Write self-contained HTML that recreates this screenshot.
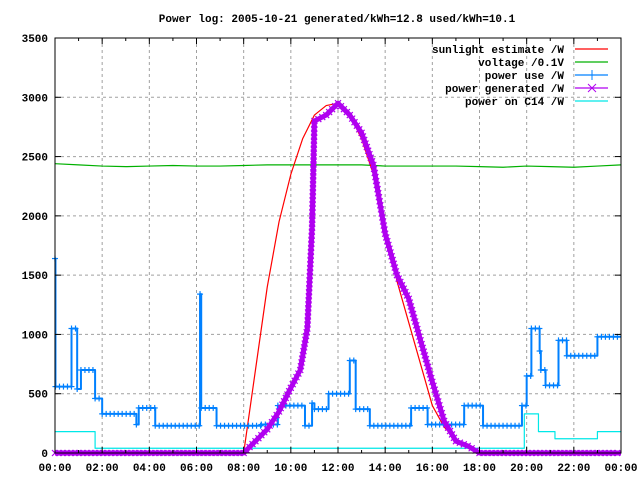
<!DOCTYPE html>
<html><head><meta charset="utf-8"><style>
body{margin:0;background:#fff}
svg{display:block;font-family:"Liberation Mono","DejaVu Sans Mono",monospace;font-size:11px;font-weight:bold}
</style></head><body>
<svg id="chart" width="640" height="480" viewBox="0 0 640 480">
<rect width="640" height="480" fill="#fff"/>
<text x="337" y="22" text-anchor="middle">Power log: 2005-10-21 generated/kWh=12.8 used/kWh=10.1</text>
<g id="grid"></g><g id="series"></g><g id="axes"></g>
<g id="legend"></g>
</svg>
<script>
const yTicks=[0,500,1000,1500,2000,2500,3000,3500];
const xTickLabels=["00:00","02:00","04:00","06:00","08:00","10:00","12:00","14:00","16:00","18:00","20:00","22:00","00:00"];
const sunHours=[8,8.5,9,9.5,10,10.5,11,11.5,12,12.5,13,13.5,14,14.5,15,15.5,16,16.5,17,17.5,18];
const sunValues=[0,700,1400,1950,2350,2650,2850,2930,2950,2850,2650,2350,1900,1450,1100,750,400,220,110,60,0];
const voltHours=[0,1,2,3,4,5,6,7,8,9,10,11,12,13,14,15,16,17,18,19,20,21,22,23,24];
const voltValues=[2440,2430,2420,2415,2420,2425,2420,2420,2425,2430,2430,2430,2430,2430,2420,2420,2420,2420,2415,2410,2420,2415,2410,2420,2430];
const useStart=[0,0.02,0.7,0.94,1.1,1.7,2.0,3.45,3.55,4.25,6.15,6.2,6.85,8.75,9.45,10.6,10.9,11.0,11.6,12.5,12.75,13.35,15.1,15.8,17.35,18.15,19.8,20.0,20.2,20.55,20.6,20.8,21.35,21.7,23.0];
const useValues=[1640,560,1050,540,700,460,330,240,380,230,1340,380,230,240,400,230,420,370,500,780,370,230,380,240,400,230,400,650,1050,860,700,570,950,820,980];
const genHours=[0,8,8.5,9,9.5,10,10.4,10.7,10.9,11,11.5,12,12.5,13,13.5,14,14.5,15,15.5,16,16.5,17,17.5,18,24];
const genValues=[0,0,100,200,350,550,700,1050,1900,2800,2850,2950,2850,2700,2430,1850,1500,1300,950,600,270,100,60,0,0];
const c14Start=[0,1.7,19.9,20.5,21.2,23.0];
const c14Values=[180,40,330,180,120,180];

const L=55,R=621,T=38,B=453,NS="http://www.w3.org/2000/svg";
const X=h=>L+(R-L)*h/24, Y=v=>B-(B-T)*v/3500;
function mk(tag,attrs,parent){const e=document.createElementNS(NS,tag);for(const k in attrs)e.setAttribute(k,attrs[k]);parent.appendChild(e);return e;}
const grid=document.getElementById('grid'),axes=document.getElementById('axes'),ser=document.getElementById('series'),leg=document.getElementById('legend');
yTicks.forEach(v=>{
 if(v>0&&v<3500){const g=mk('line',{x1:L,x2:R,y1:Y(v),y2:Y(v),stroke:'#a0a0a0','stroke-dasharray':'3,3'},grid);
 
 }
 const t=mk('text',{x:L-7,y:Y(v)+4,'text-anchor':'end'},axes);t.textContent=v;
 
 
 mk('line',{x1:L,x2:L+6,y1:Y(v),y2:Y(v),stroke:'#000'},axes);mk('line',{x1:R,x2:R-6,y1:Y(v),y2:Y(v),stroke:'#000'},axes);
});
xTickLabels.forEach((s,i)=>{const h=i*2;
 if(i>0&&i<12){const g=mk('line',{x1:X(h),x2:X(h),y1:T,y2:B,stroke:'#a0a0a0','stroke-dasharray':'3,3'},grid);
 
 }
 const t=mk('text',{x:X(h),y:471,'text-anchor':'middle'},axes);t.textContent=s;
 
 
});
for(let h=0;h<=24;h++){const l=h%2?3:6;mk('line',{x1:X(h),x2:X(h),y1:B,y2:B-l,stroke:'#000'},axes);mk('line',{x1:X(h),x2:X(h),y1:T,y2:T+l,stroke:'#000'},axes);}
const fr=mk('rect',{x:L,y:T,width:R-L,height:B-T,fill:'none',stroke:'#000'},axes);



function stepPts(st,vals){let p=[];st.forEach((s,i)=>{const e=i<st.length-1?st[i+1]:24;p.push([X(s),Y(vals[i])],[X(e),Y(vals[i])]);});return p;}
function poly(pts,color,w,name){const e=mk('polyline',{points:pts.map(p=>p.join(',')).join(' '),fill:'none',stroke:color,'stroke-width':w,'stroke-linejoin':'round'},ser);
 
 return e;}

poly(stepPts(c14Start,c14Values),'#00e8e8',1.2,'power-c14-line');
poly(voltHours.map((h,i)=>[X(h),Y(voltValues[i])]),'#00b000',1.2,'voltage-line');
poly(sunHours.map((h,i)=>[X(h),Y(sunValues[i])]),'#ff0000',1.2,'sunlight-line');
const up=stepPts(useStart,useValues);
poly(up,'#0080ff',2,'power-use-line');
const gm=mk('g',{stroke:'#0080ff','stroke-width':1.2},ser);


for(let i=0;i<up.length;i+=2){const [x1,y]=up[i],[x2]=up[i+1];for(let x=x1;x<=x2;x+=4){mk('line',{x1:x-3,x2:x+3,y1:y,y2:y},gm);mk('line',{x1:x,x2:x,y1:y-3,y2:y+3},gm);}}
const gp=genHours.map((h,i)=>[X(h),Y(genValues[i])]);
poly(gp,'#b000f0',5,'power-generated-line');
const gx=mk('g',{stroke:'#b000f0','stroke-width':1.2},ser);


for(let i=0;i<gp.length-1;i++){const [xa,ya]=gp[i],[xb,yb]=gp[i+1];const n=Math.max(1,Math.round(Math.hypot(xb-xa,yb-ya)/4));
 for(let k=0;k<n;k++){const x=xa+(xb-xa)*k/n,y=ya+(yb-ya)*k/n;mk('line',{x1:x-3,x2:x+3,y1:y-3,y2:y+3},gx);mk('line',{x1:x-3,x2:x+3,y1:y+3,y2:y-3},gx);}}

const items=[["sunlight estimate /W",'#ff0000',''],["voltage /0.1V",'#00b000',''],["power use /W",'#0080ff','+'],["power generated /W",'#b000f0','x'],["power on C14 /W",'#00e8e8','']];
items.forEach((it,i)=>{const y=49+i*13;
 const t=mk('text',{x:564,y:y+4,'text-anchor':'end'},leg);t.textContent=it[0];
 
 
 mk('line',{x1:575,x2:608,y1:y,y2:y,stroke:it[1],'stroke-width':1.2},leg);
 if(it[2]=='+'){mk('line',{x1:587,x2:597,y1:y,y2:y,stroke:it[1]},leg);mk('line',{x1:592,x2:592,y1:y-5,y2:y+5,stroke:it[1]},leg);}
 if(it[2]=='x'){mk('line',{x1:588,x2:596,y1:y-4,y2:y+4,stroke:it[1]},leg);mk('line',{x1:588,x2:596,y1:y+4,y2:y-4,stroke:it[1]},leg);}
});
</script>
</body></html>
